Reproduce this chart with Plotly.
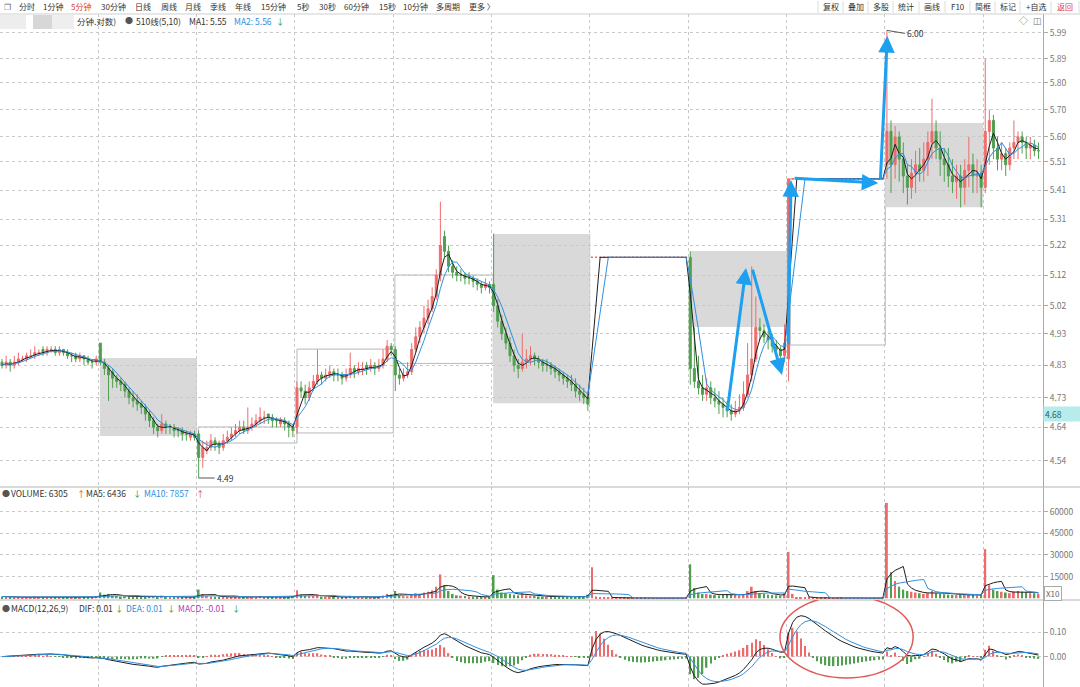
import math
import pandas as pd
import plotly.graph_objects as go

W, H = 1080, 687
TOP = 14           # px, toolbar height
PLOT_R = 1043      # px, right edge of plotting area
BARS_PER_DAY = 24

# ---------------- data ----------------
OPEN = [
    # day 0
    4.84,4.83,4.84,4.83,4.84,4.85,4.85,4.86,4.86,4.87,4.88,4.87,4.88,4.88,4.87,4.88,4.87,4.86,4.86,4.85,4.86,4.85,4.84,4.84,
    # day 1
    4.90,4.84,4.82,4.81,4.79,4.78,4.77,4.75,4.73,4.72,4.71,4.70,4.68,4.66,4.64,4.63,4.65,4.64,4.64,4.63,4.63,4.62,4.61,4.62,
    # day 2
    4.62,4.55,4.57,4.58,4.60,4.59,4.58,4.60,4.61,4.62,4.63,4.64,4.63,4.64,4.65,4.66,4.67,4.68,4.67,4.66,4.65,4.66,4.65,4.64,
    # day 3
    4.64,4.76,4.75,4.73,4.76,4.78,4.80,4.79,4.80,4.81,4.80,4.80,4.79,4.80,4.82,4.81,4.82,4.83,4.82,4.83,4.82,4.83,4.85,4.89,
    # day 4
    4.88,4.80,4.79,4.80,4.81,4.88,4.92,4.95,4.98,5.01,5.05,5.12,5.25,5.20,5.15,5.13,5.12,5.12,5.11,5.11,5.10,5.09,5.08,5.09,
    # day 5
    5.09,5.02,4.97,4.93,4.90,4.86,4.83,4.82,4.84,4.85,4.86,4.85,4.84,4.83,4.83,4.82,4.81,4.80,4.79,4.78,4.77,4.75,4.74,4.73,
    # day 6 (limit up, one-price bars)
    5.18,5.18,5.18,5.18,5.18,5.18,5.18,5.18,5.18,5.18,5.18,5.18,5.18,5.18,5.18,5.18,5.18,5.18,5.18,5.18,5.18,5.18,5.18,5.18,
    # day 7
    5.18,4.82,4.78,4.76,4.74,4.76,4.73,4.72,4.71,4.70,4.69,4.68,4.69,4.70,4.74,4.80,4.85,4.95,4.94,4.92,4.91,4.89,4.88,4.86,
    # day 8
    4.85,5.45,5.45,5.45,5.45,5.45,5.45,5.45,5.45,5.45,5.45,5.45,5.45,5.45,5.45,5.45,5.45,5.45,5.45,5.45,5.45,5.45,5.45,5.45,
    # day 9
    5.50,5.62,5.50,5.60,5.52,5.46,5.42,5.47,5.50,5.48,5.52,5.58,5.62,5.56,5.52,5.50,5.46,5.44,5.46,5.42,5.48,5.50,5.46,5.47,
    # day 10 (partial)
    5.42,5.62,5.66,5.56,5.52,5.54,5.50,5.56,5.58,5.60,5.58,5.56,5.57,5.55,
]
HIGH = [
    4.85,4.86,4.85,4.86,4.87,4.86,4.87,4.88,4.89,4.88,4.89,4.89,4.89,4.89,4.89,4.88,4.88,4.87,4.87,4.87,4.86,4.86,4.85,4.86,
    4.90,4.85,4.83,4.82,4.80,4.79,4.78,4.76,4.75,4.74,4.72,4.71,4.69,4.67,4.65,4.68,4.66,4.65,4.65,4.64,4.64,4.63,4.63,4.63,
    4.63,4.60,4.60,4.62,4.61,4.60,4.62,4.63,4.64,4.65,4.66,4.66,4.70,4.67,4.68,4.70,4.69,4.68,4.68,4.67,4.67,4.67,4.66,4.65,
    4.78,4.78,4.77,4.78,4.80,4.88,4.81,4.82,4.83,4.82,4.82,4.81,4.82,4.87,4.83,4.84,4.84,4.84,4.85,4.84,4.85,4.88,4.91,4.90,
    4.89,4.82,4.82,4.84,4.90,4.95,4.97,5.02,5.04,5.08,5.14,5.37,5.27,5.22,5.17,5.15,5.14,5.13,5.13,5.12,5.11,5.10,5.11,5.10,
    5.26,5.04,4.99,4.95,4.92,4.88,4.85,4.93,4.88,4.89,4.87,4.86,4.85,4.85,4.84,4.83,4.82,4.81,4.80,4.80,4.79,4.77,4.76,4.75,
    5.18,5.18,5.18,5.18,5.18,5.18,5.18,5.18,5.18,5.18,5.18,5.18,5.18,5.18,5.18,5.18,5.18,5.18,5.18,5.18,5.18,5.18,5.18,5.18,
    5.20,4.95,4.86,4.80,4.79,4.78,4.76,4.75,4.73,4.72,4.71,4.72,4.74,4.78,4.90,5.15,5.05,4.98,4.96,4.94,4.93,4.91,4.89,4.96,
    5.45,5.45,5.45,5.45,5.45,5.45,5.45,5.45,5.45,5.45,5.45,5.45,5.45,5.45,5.45,5.45,5.45,5.45,5.45,5.45,5.45,5.45,5.45,5.45,
    6.00,5.66,5.64,5.62,5.58,5.50,5.52,5.55,5.56,5.58,5.62,5.74,5.66,5.62,5.56,5.56,5.52,5.50,5.50,5.52,5.60,5.54,5.52,5.50,
    5.89,5.70,5.68,5.60,5.58,5.56,5.58,5.66,5.62,5.62,5.60,5.60,5.59,5.58,
]
LOW = [
    4.82,4.82,4.81,4.82,4.83,4.84,4.84,4.85,4.85,4.86,4.86,4.86,4.87,4.86,4.86,4.86,4.85,4.84,4.84,4.84,4.83,4.83,4.82,4.83,
    4.83,4.80,4.72,4.76,4.76,4.75,4.73,4.71,4.70,4.69,4.68,4.66,4.64,4.62,4.61,4.62,4.62,4.62,4.61,4.61,4.60,4.60,4.60,4.60,
    4.49,4.52,4.56,4.57,4.57,4.56,4.57,4.59,4.60,4.61,4.62,4.62,4.62,4.63,4.64,4.65,4.65,4.65,4.64,4.64,4.64,4.63,4.61,4.61,
    4.62,4.73,4.71,4.72,4.75,4.77,4.77,4.78,4.79,4.78,4.78,4.77,4.78,4.79,4.79,4.80,4.80,4.80,4.81,4.80,4.81,4.82,4.84,4.86,
    4.75,4.77,4.78,4.79,4.80,4.87,4.90,4.93,4.96,5.00,5.04,5.10,5.18,5.13,5.11,5.10,5.10,5.09,5.09,5.08,5.07,5.06,5.07,5.06,
    5.00,4.95,4.91,4.88,4.84,4.81,4.79,4.81,4.82,4.83,4.83,4.82,4.81,4.81,4.80,4.79,4.78,4.77,4.76,4.75,4.73,4.72,4.71,4.69,
    5.18,5.18,5.18,5.18,5.18,5.18,5.18,5.18,5.18,5.18,5.18,5.18,5.18,5.18,5.18,5.18,5.18,5.18,5.18,5.18,5.18,5.18,5.18,5.18,
    4.77,4.76,4.74,4.72,4.72,4.71,4.70,4.68,4.67,4.67,4.66,4.67,4.68,4.69,4.73,4.78,4.84,4.91,4.90,4.88,4.87,4.86,4.84,4.84,
    4.78,5.45,5.45,5.45,5.45,5.45,5.45,5.45,5.45,5.45,5.45,5.45,5.45,5.45,5.45,5.45,5.45,5.45,5.45,5.45,5.45,5.45,5.45,5.45,
    5.45,5.40,5.45,5.44,5.40,5.36,5.38,5.40,5.44,5.44,5.46,5.52,5.52,5.46,5.44,5.42,5.40,5.38,5.35,5.36,5.42,5.40,5.40,5.35,
    5.40,5.50,5.52,5.48,5.48,5.46,5.48,5.52,5.52,5.54,5.52,5.52,5.53,5.52,
]
CLOSE = [
    4.83,4.84,4.83,4.84,4.85,4.85,4.86,4.86,4.87,4.87,4.87,4.88,4.88,4.87,4.88,4.87,4.86,4.86,4.85,4.86,4.85,4.84,4.84,4.85,
    4.84,4.82,4.80,4.79,4.78,4.77,4.75,4.73,4.72,4.71,4.70,4.68,4.66,4.64,4.63,4.65,4.64,4.64,4.63,4.63,4.62,4.62,4.62,4.61,
    4.55,4.58,4.58,4.60,4.59,4.58,4.60,4.61,4.62,4.63,4.64,4.63,4.64,4.65,4.66,4.67,4.67,4.67,4.66,4.66,4.66,4.65,4.64,4.63,
    4.76,4.75,4.73,4.76,4.78,4.80,4.79,4.80,4.81,4.80,4.80,4.79,4.80,4.82,4.81,4.82,4.82,4.82,4.83,4.82,4.83,4.85,4.89,4.88,
    4.80,4.79,4.80,4.81,4.88,4.92,4.95,4.98,5.01,5.05,5.12,5.22,5.20,5.15,5.13,5.12,5.12,5.11,5.11,5.10,5.09,5.08,5.09,5.08,
    5.02,4.97,4.93,4.90,4.86,4.83,4.82,4.84,4.85,4.86,4.85,4.84,4.83,4.83,4.82,4.81,4.80,4.79,4.78,4.77,4.75,4.74,4.73,4.71,
    5.18,5.18,5.18,5.18,5.18,5.18,5.18,5.18,5.18,5.18,5.18,5.18,5.18,5.18,5.18,5.18,5.18,5.18,5.18,5.18,5.18,5.18,5.18,5.18,
    4.82,4.78,4.76,4.74,4.76,4.73,4.72,4.71,4.70,4.69,4.68,4.69,4.70,4.74,4.80,4.85,4.95,4.94,4.92,4.91,4.89,4.88,4.86,4.90,
    5.45,5.45,5.45,5.45,5.45,5.45,5.45,5.45,5.45,5.45,5.45,5.45,5.45,5.45,5.45,5.45,5.45,5.45,5.45,5.45,5.45,5.45,5.45,5.45,
    5.62,5.50,5.60,5.52,5.46,5.42,5.47,5.50,5.48,5.52,5.58,5.62,5.56,5.52,5.50,5.46,5.44,5.46,5.42,5.48,5.50,5.46,5.47,5.42,
    5.62,5.66,5.56,5.52,5.54,5.50,5.56,5.58,5.60,5.58,5.56,5.57,5.55,5.55,
]
VOLUME = [
    1200,800,900,700,1000,600,800,900,1100,700,600,800,900,700,600,500,700,800,600,700,500,600,900,1500,
    4000,2500,3000,1800,1500,1200,1400,1300,1100,1000,900,1200,1400,1600,1300,1800,1000,900,800,700,900,800,700,1200,
    6000,3000,1500,1200,1000,900,1100,1000,900,800,900,700,1300,800,900,1400,1000,800,700,900,800,900,1100,1600,
    5500,2500,1800,1500,1600,2800,1200,1100,1000,900,800,700,900,1800,900,800,700,800,900,800,900,2000,3000,2500,
    5000,2200,1500,1400,3000,3500,3000,4000,4500,5500,8000,16500,9000,5000,3000,2000,1800,1500,1200,1100,1000,900,1000,1200,
    16000,6000,4000,3500,3000,2500,2000,3500,2000,1800,1500,1300,1200,1100,1200,1000,1100,1000,900,1000,1200,1100,1300,2500,
    21500,1200,600,400,300,300,250,250,200,200,200,200,200,200,150,150,150,150,150,150,150,150,150,300,
    23500,7000,4000,3000,3000,2500,2200,2000,2500,3000,2500,2200,2000,3000,5000,8000,5000,3500,3000,2500,2200,2000,1800,3500,
    32000,3000,800,400,300,300,250,250,200,200,200,200,200,200,150,150,150,150,150,150,150,150,150,300,
    66000,18000,12000,8000,6000,5000,4500,4000,3500,3000,3500,5000,3500,3000,2800,2500,2200,2200,2500,2200,2600,2200,2000,2600,
    34000,9000,6000,5000,4500,4000,3500,4500,5000,4500,4000,3500,3500,3000,
]
PRICE_TICKS = [5.99, 5.89, 5.80, 5.70, 5.60, 5.51, 5.41, 5.31, 5.22, 5.12, 5.02, 4.93, 4.83, 4.73, 4.64, 4.54]
VOL_TICKS = [15000, 30000, 45000, 60000]
MACD_TICKS = [0.00, 0.10]

# drawings on the chart: (bar_from, bar_to, price_low, price_high, filled)
BOXES = [
    (23.9, 47.6, 4.614, 4.853, True),
    (47.9, 72.0, 4.593, 4.641, False),
    (72.0, 95.5, 4.623, 4.881, False),
    (95.9, 119.9, 4.836, 5.121, False),
    (119.9, 143.6, 4.713, 5.259, True),
    (168.0, 191.7, 4.951, 5.201, True),
    (192.4, 215.6, 4.894, 5.450, False),
    (215.6, 239.5, 5.351, 5.651, True),
]
# blue arrows: (tail_bar, tail_price, head_bar, head_price)
ARROWS = [
    (177.0, 4.686, 181.6, 5.144),
    (183.1, 5.144, 190.4, 4.800),
    (191.9, 4.894, 192.6, 5.445),
    (193.1, 5.452, 213.9, 5.435),
    (214.4, 5.445, 216.1, 5.978),
]

n = len(CLOSE)
assert len(OPEN) == n and len(HIGH) == n and len(LOW) == n and len(VOLUME) == n
X = list(range(n))

# ---------------- indicators ----------------
cs = pd.Series(CLOSE)
ma1 = cs.rolling(3, min_periods=1).mean()
ma2 = cs.rolling(5, min_periods=1).mean()
vs = pd.Series(VOLUME, dtype=float)
vma5 = vs.rolling(5, min_periods=1).mean()
vma10 = vs.rolling(10, min_periods=1).mean()
ema_f = cs.ewm(span=6, adjust=False).mean()
ema_s = cs.ewm(span=13, adjust=False).mean()
dif = ema_f - ema_s
dea = dif.ewm(span=4.56, adjust=False).mean()
macd = 2 * (dif - dea)

RED = "#ef6b6b"
GREEN = "#4f9f4f"
BLACK = "#1e1e1e"
BLUE = "#2f8fe0"
ARROW_BLUE = "#1ea0f0"
FONT = "Noto Sans CJK SC"

up = [c >= o for o, c in zip(OPEN, CLOSE)]

fig = go.Figure()
fig.add_trace(go.Candlestick(
    x=X, open=OPEN, high=HIGH, low=LOW, close=CLOSE,
    increasing=dict(line=dict(color=RED, width=1), fillcolor=RED),
    decreasing=dict(line=dict(color=GREEN, width=1), fillcolor=GREEN),
    whiskerwidth=0, xaxis="x", yaxis="y", showlegend=False, hoverinfo="skip"))
fig.add_trace(go.Scatter(x=X, y=ma1, mode="lines", line=dict(color=BLACK, width=1),
                         xaxis="x", yaxis="y", showlegend=False, hoverinfo="skip"))
fig.add_trace(go.Scatter(x=X, y=ma2, mode="lines", line=dict(color=BLUE, width=1),
                         xaxis="x", yaxis="y", showlegend=False, hoverinfo="skip"))

fig.add_trace(go.Bar(x=X, y=VOLUME, width=0.45, marker=dict(color=[RED if u else GREEN for u in up], line=dict(width=0)),
                     xaxis="x2", yaxis="y2", showlegend=False, hoverinfo="skip"))
fig.add_trace(go.Scatter(x=X, y=vma5, mode="lines", line=dict(color=BLACK, width=1),
                         xaxis="x2", yaxis="y2", showlegend=False, hoverinfo="skip"))
fig.add_trace(go.Scatter(x=X, y=vma10, mode="lines", line=dict(color=BLUE, width=1),
                         xaxis="x2", yaxis="y2", showlegend=False, hoverinfo="skip"))

fig.add_trace(go.Bar(x=X, y=macd, width=0.35, marker=dict(color=[RED if v >= 0 else GREEN for v in macd], line=dict(width=0)),
                     xaxis="x3", yaxis="y3", showlegend=False, hoverinfo="skip"))
fig.add_trace(go.Scatter(x=X, y=dif, mode="lines", line=dict(color=BLACK, width=1),
                         xaxis="x3", yaxis="y3", showlegend=False, hoverinfo="skip"))
fig.add_trace(go.Scatter(x=X, y=dea, mode="lines", line=dict(color=BLUE, width=1),
                         xaxis="x3", yaxis="y3", showlegend=False, hoverinfo="skip"))

# ---------------- layout helpers ----------------
PH = H - TOP
def py(ypx):
    return (H - ypx) / PH
def px(xpx):
    return xpx / PLOT_R

day_edges = [BARS_PER_DAY * k - 0.5 for k in range(1, 11)]
xr = [-0.49, 254.1]
common_x = dict(range=xr, tickvals=day_edges, showticklabels=False, ticks="",
                showgrid=True, gridcolor="#c8c8c8", griddash="dot", gridwidth=1,
                zeroline=False, showline=False, fixedrange=True)
tickfont = dict(family=FONT, size=8.5, color="#777")
common_y = dict(side="right", showgrid=True, gridcolor="#c8c8c8", griddash="dot", gridwidth=1,
                ticks="outside", ticklen=4, tickcolor="#aaa", showline=True, linecolor="#aaa",
                linewidth=1, zeroline=False, tickfont=tickfont, fixedrange=True)

fig.update_layout(
    width=W, height=H, paper_bgcolor="white", plot_bgcolor="white",
    margin=dict(l=0, r=W - PLOT_R, t=TOP, b=0),
    showlegend=False, font=dict(family=FONT, color="#333"),
    xaxis=dict(common_x, anchor="y", rangeslider=dict(visible=False)),
    xaxis2=dict(common_x, anchor="y2"),
    xaxis3=dict(common_x, anchor="y3"),
    yaxis=dict(common_y, type="log", domain=[py(487), 1],
               range=[math.log10(4.464), math.log10(6.064)],
               tickvals=PRICE_TICKS, ticktext=[f"{v:.2f}" for v in PRICE_TICKS], anchor="x"),
    yaxis2=dict(common_y, domain=[py(600), py(487)], range=[-1200, 77000],
                tickvals=VOL_TICKS, ticktext=[str(v) for v in VOL_TICKS], anchor="x2"),
    yaxis3=dict(common_y, domain=[0, py(600)], range=[-0.125, 0.233],
                tickvals=MACD_TICKS, ticktext=[f"{v:.2f}" for v in MACD_TICKS], anchor="x3"),
)

shapes = []
for x0, x1, lo, hi, filled in BOXES:
    if filled:
        shapes.append(dict(type="rect", xref="x", yref="y", x0=x0, x1=x1, y0=lo, y1=hi,
                           fillcolor="#d9d9d9", line=dict(width=0), layer="below"))
    else:
        shapes.append(dict(type="rect", xref="x", yref="y", x0=x0, x1=x1, y0=lo, y1=hi,
                           fillcolor="rgba(0,0,0,0)", line=dict(color="#b8b8b8", width=1), layer="below"))
# panel separators and toolbar line
for ysep in (487, 600):
    shapes.append(dict(type="line", xref="paper", yref="paper", x0=0, x1=W / PLOT_R, y0=py(ysep), y1=py(ysep),
                       line=dict(color="#b5b5b5", width=1)))
shapes.append(dict(type="line", xref="paper", yref="paper", x0=0, x1=W / PLOT_R, y0=py(TOP), y1=py(TOP),
                   line=dict(color="#cfcfcf", width=1)))
# toolbar button separators (right side)
for sx in (818, 843, 868, 893, 919, 945, 970, 995, 1020, 1051, 1079):
    shapes.append(dict(type="line", xref="paper", yref="paper", x0=px(sx), x1=px(sx), y0=py(1), y1=py(13),
                       line=dict(color="#dddddd", width=1)))
# red ellipse in MACD panel
shapes.append(dict(type="circle", xref="x3", yref="y3", x0=189.9, x1=222.4, y0=-0.0875, y1=0.25,
                   line=dict(color="#e05a5a", width=1.5), fillcolor="rgba(0,0,0,0)"))
# blurred name area
shapes.append(dict(type="rect", xref="paper", yref="paper", x0=px(0), x1=px(26), y0=py(29), y1=py(15),
                   fillcolor="#ededed", line=dict(width=0)))
shapes.append(dict(type="rect", xref="paper", yref="paper", x0=px(33), x1=px(52), y0=py(29), y1=py(15),
                   fillcolor="#d7d7d7", line=dict(width=0)))
shapes.append(dict(type="rect", xref="paper", yref="paper", x0=px(52), x1=px(74), y0=py(29), y1=py(15),
                   fillcolor="#eeeeee", line=dict(width=0)))
fig.update_layout(shapes=shapes)

ann = []
def text(x, y, s, color="#333", size=8.5, anchor="left"):
    ann.append(dict(xref="paper", yref="paper", x=px(x), y=py(y), text=s, showarrow=False,
                    xanchor=anchor, yanchor="middle", font=dict(family=FONT, size=size, color=color)))

# toolbar
text(2, 6.5, "❐", color="#666", size=8)
for s, x in [("分时", 17), ("1分钟", 41), ("5分钟", 69), ("30分钟", 99), ("日线", 133), ("周线", 159),
             ("月线", 183), ("季线", 208), ("年线", 233), ("15分钟", 259), ("5秒", 295), ("30秒", 317),
             ("60分钟", 342), ("15秒", 377), ("10分钟", 401), ("多周期", 434), ("更多 〉", 467)]:
    text(x, 6.5, s, color="#e23b3b" if s == "5分钟" else "#333", size=8)
for s, x in [("复权", 830.5), ("叠加", 855.5), ("多股", 880.5), ("统计", 906), ("画线", 932), ("F10", 957.5),
             ("简框", 982.5), ("标记", 1007.5), ("+自选", 1035.5), ("返回", 1065)]:
    text(x, 6.5, s, color="#e23b3b" if s == "返回" else "#333", size=8, anchor="center")
text(1017, 21, "◇", color="#777", size=9)
text(1031, 21, "◫", color="#777", size=9)

# price panel legend
text(75, 21, "分钟.对数)", size=8.5)
text(123, 21, "●", color="#555", size=8)
text(134, 21, "510线(5,10)", size=8.5)
text(187, 21, "MA1: 5.55", size=8.5)
text(232, 21, "MA2: 5.56", color=BLUE, size=8.5)
text(274, 21, "↓", color="#2a9d2a", size=8.5)

# volume legend
text(0, 493, "●", color="#555", size=8)
text(9, 493, "VOLUME: 6305", size=8.5)
text(75, 493, "↑", color="#e23b3b", size=8.5)
text(84, 493, "MA5: 6436", size=8.5)
text(131, 493, "↓", color="#2a9d2a", size=8.5)
text(142, 493, "MA10: 7857", color=BLUE, size=8.5)
text(194, 493, "↑", color="#e23b3b", size=8.5)

# macd legend
text(0, 608, "●", color="#555", size=8)
text(9, 608, "MACD(12,26,9)", size=8.5)
text(77, 608, "DIF: 0.01", size=8.5)
text(113, 608, "↓", color="#2a9d2a", size=8.5)
text(124, 608, "DEA: 0.01", color=BLUE, size=8.5)
text(165, 608, "↓", color="#2a9d2a", size=8.5)
text(176, 608, "MACD: -0.01", color="#b23bb2", size=8.5)
text(230, 608, "↓", color="#2a9d2a", size=8.5)

# X10 box
ann.append(dict(xref="paper", yref="paper", x=px(PLOT_R + 1), y=py(593.5), text="X10", showarrow=False,
                xanchor="left", yanchor="middle", bgcolor="white", bordercolor="#aaa", borderwidth=1, borderpad=1,
                font=dict(family=FONT, size=8, color="#666")))
# current price tag
ann.append(dict(xref="paper", yref="y", x=1.0, y=math.log10(4.68), text="4.68 ", showarrow=False,
                xanchor="left", yanchor="middle", bgcolor="#b6ecec", borderpad=1, width=35, align="left",
                font=dict(family=FONT, size=8.5, color="#1d5f5f")))

# high / low markers
ann.append(dict(xref="x", yref="y", x=216, y=math.log10(6.00), text="6.00", showarrow=True,
                arrowhead=0, arrowwidth=1, arrowcolor="#555", ax=18, ay=3, xanchor="left",
                font=dict(family=FONT, size=8.5, color="#333")))
ann.append(dict(xref="x", yref="y", x=48, y=math.log10(4.49), text="4.49", showarrow=True,
                arrowhead=0, arrowwidth=1, arrowcolor="#555", ax=16, ay=0, xanchor="left",
                font=dict(family=FONT, size=8.5, color="#333")))

# blue arrows
for tx, tp, hx, hp in ARROWS:
    ann.append(dict(xref="x", yref="y", axref="x", ayref="y", x=hx, y=math.log10(hp),
                    ax=tx, ay=math.log10(tp), text="", showarrow=True, arrowhead=2,
                    arrowsize=1.1, arrowwidth=3, arrowcolor=ARROW_BLUE, standoff=0))

fig.update_layout(annotations=ann)
fig.write_html("out.html", config={"displayModeBar": False},
               post_script="document.body.style.margin='0px';document.body.style.padding='0px';")
